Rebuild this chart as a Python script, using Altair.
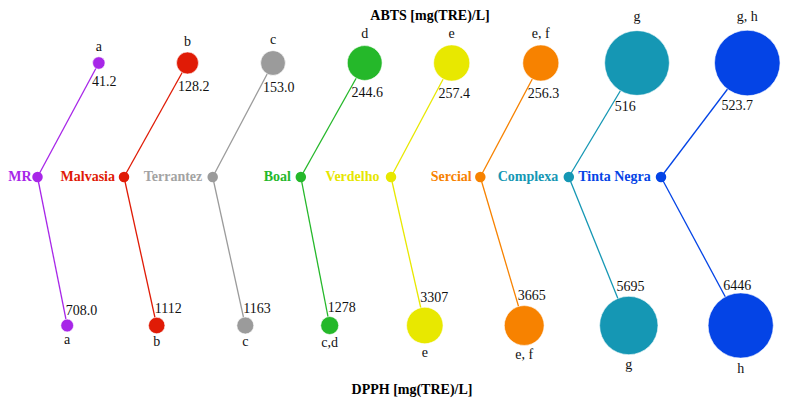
import math
import altair as alt
import pandas as pd

# ---- data values ----
categories = ["MR", "Malvasia", "Terrantez", "Boal", "Verdelho", "Sercial", "Complexa", "Tinta Negra"]
abts = [41.2, 128.2, 153.0, 244.6, 257.4, 256.3, 516.0, 523.7]
abts_text = ["41.2", "128.2", "153.0", "244.6", "257.4", "256.3", "516", "523.7"]
abts_letters = ["a", "b", "c", "d", "e", "e, f", "g", "g, h"]
dpph = [708.0, 1112, 1163, 1278, 3307, 3665, 5695, 6446]
dpph_text = ["708.0", "1112", "1163", "1278", "3307", "3665", "5695", "6446"]
dpph_letters = ["a", "b", "c", "c,d", "e", "e, f", "g", "h"]

# ---- styles ----
colors = ["#a726e8", "#e01b06", "#9b9b9b", "#25b82a", "#e8e800", "#f78200", "#1597b4", "#0444e6"]
text_colors = ["#a726e8", "#e01b06", "#a3a3a3", "#25b82a", "#e6e600", "#f78200", "#1597b4", "#0444e6"]

# ---- layout (node positions, screen units) ----
center_x = [37.5, 124, 212.7, 300.8, 391, 480.3, 568.8, 661]
center_y = 177
top_x = [98.8, 187.5, 273, 364.7, 451.7, 540.8, 637, 747.3]
top_y = 63
bot_x = [67.2, 156.7, 245.3, 329.7, 424.8, 524.2, 628.8, 740.7]
bot_y = 325.5
label_gap = [6, 9, 10.4, 9.8, 11.5, 8.6, 10.5, 10.3]

# size scales (radius linear in value with an offset)
TOP_SHIFT, TOP_DMAX, TOP_RMAX = 71.4, 595.1, 37.0
BOT_SHIFT, BOT_DMAX, BOT_RMAX = 688.0, 7134.0, 36.8

rows = []
for i, c in enumerate(categories):
    rt = TOP_RMAX * (abts[i] + TOP_SHIFT) / TOP_DMAX
    rb = BOT_RMAX * (dpph[i] + BOT_SHIFT) / BOT_DMAX
    dx, dy = center_x[i] - top_x[i], center_y - top_y
    L = math.hypot(dx, dy)
    itx, ity = top_x[i] + dx / L * rt, top_y + dy / L * rt
    dx2, dy2 = center_x[i] - bot_x[i], center_y - bot_y
    L2 = math.hypot(dx2, dy2)
    ibx, iby = bot_x[i] + dx2 / L2 * rb, bot_y + dy2 / L2 * rb
    rows.append(dict(
        cat=c, cx=center_x[i], cy=center_y, tx=top_x[i], ty=top_y, bx=bot_x[i], by=bot_y,
        lx=center_x[i] - label_gap[i], ly=center_y + 4,
        abts_s=abts[i] + TOP_SHIFT, dpph_s=dpph[i] + BOT_SHIFT,
        abts_t=abts_text[i], dpph_t=dpph_text[i],
        abts_l=abts_letters[i], dpph_l=dpph_letters[i],
        tvx=itx - 3.5, tvy=ity + 17, bvx=ibx, bvy=iby - 3.5,
        tly=top_y - rt - 5, bly=bot_y + rb + 11,
        tcol=text_colors[i],
    ))
df = pd.DataFrame(rows)

W, H = 774, 390
X = alt.Scale(domain=[8, 8 + W])
Y = alt.Scale(domain=[8, 8 + H], reverse=True)
col = alt.Color("cat:N", scale=alt.Scale(domain=categories, range=colors), legend=None)
FONT = "Liberation Serif"

base = alt.Chart(df)

edge_top = base.mark_rule(strokeWidth=1.3).encode(
    x=alt.X("cx:Q", scale=X, axis=None), y=alt.Y("cy:Q", scale=Y, axis=None),
    x2="tx:Q", y2="ty:Q", color=col)
edge_bot = base.mark_rule(strokeWidth=1.3).encode(
    x=alt.X("cx:Q", scale=X, axis=None), y=alt.Y("cy:Q", scale=Y, axis=None),
    x2="bx:Q", y2="by:Q", color=col)

center_nodes = base.mark_circle(opacity=1, size=110).encode(
    x=alt.X("cx:Q", scale=X, axis=None), y=alt.Y("cy:Q", scale=Y, axis=None), color=col)

top_nodes = base.mark_circle(opacity=1, stroke="white", strokeWidth=0.6).encode(
    x=alt.X("tx:Q", scale=X, axis=None), y=alt.Y("ty:Q", scale=Y, axis=None), color=col,
    size=alt.Size("abts_s:Q", scale=alt.Scale(type="pow", exponent=2, domain=[0, TOP_DMAX],
                                             range=[0, math.pi * TOP_RMAX ** 2]), legend=None))
bot_nodes = base.mark_circle(opacity=1, stroke="white", strokeWidth=0.6).encode(
    x=alt.X("bx:Q", scale=X, axis=None), y=alt.Y("by:Q", scale=Y, axis=None), color=col,
    size=alt.Size("dpph_s:Q", scale=alt.Scale(type="pow", exponent=2, domain=[0, BOT_DMAX],
                                             range=[0, math.pi * BOT_RMAX ** 2]), legend=None))

cat_labels = base.mark_text(font=FONT, fontSize=14, fontWeight="bold", align="right",
                            baseline="alphabetic").encode(
    x=alt.X("lx:Q", scale=X, axis=None), y=alt.Y("ly:Q", scale=Y, axis=None),
    text="cat:N", color=alt.Color("tcol:N", scale=None))

top_vals = base.mark_text(font=FONT, fontSize=14, align="left", baseline="alphabetic", color="#111").encode(
    x=alt.X("tvx:Q", scale=X, axis=None), y=alt.Y("tvy:Q", scale=Y, axis=None), text="abts_t:N")
bot_vals = base.mark_text(font=FONT, fontSize=14, align="left", baseline="alphabetic", color="#111").encode(
    x=alt.X("bvx:Q", scale=X, axis=None), y=alt.Y("bvy:Q", scale=Y, axis=None), text="dpph_t:N")
top_lets = base.mark_text(font=FONT, fontSize=14, align="center", baseline="alphabetic", color="#111").encode(
    x=alt.X("tx:Q", scale=X, axis=None), y=alt.Y("tly:Q", scale=Y, axis=None), text="abts_l:N")
bot_lets = base.mark_text(font=FONT, fontSize=14, align="center", baseline="alphabetic", color="#111").encode(
    x=alt.X("bx:Q", scale=X, axis=None), y=alt.Y("bly:Q", scale=Y, axis=None), text="dpph_l:N")

title_top = alt.Chart(pd.DataFrame({"t": ["ABTS [mg(TRE)/L]"]})).mark_text(
    font=FONT, fontSize=14, fontWeight="bold", align="center", baseline="alphabetic", color="#000").encode(
    x=alt.value(422), y=alt.value(12), text="t:N")
title_bot = alt.Chart(pd.DataFrame({"t": ["DPPH [mg(TRE)/L]"]})).mark_text(
    font=FONT, fontSize=14, fontWeight="bold", align="center", baseline="alphabetic", color="#000").encode(
    x=alt.value(404), y=alt.value(386), text="t:N")

chart = alt.layer(
    edge_top, edge_bot, center_nodes, top_nodes, bot_nodes,
    cat_labels, top_vals, bot_vals, top_lets, bot_lets, title_top, title_bot
).resolve_scale(size="independent").properties(
    width=W, height=H, padding=0, autosize=alt.AutoSizeParams(type="none")
).configure_view(stroke=None)

chart.save("out.html", embed_options={"renderer": "svg", "actions": False})
